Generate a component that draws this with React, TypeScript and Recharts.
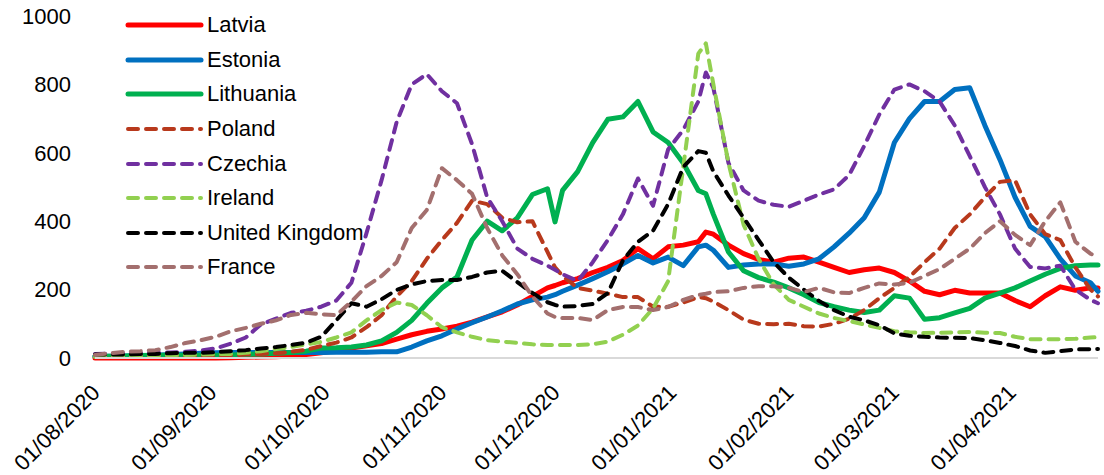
import { LineChart, Line, XAxis, YAxis, Legend } from "recharts"

// days since 01/08/2020
const days = [
  0, 4, 8, 12, 16, 20, 24, 28, 32, 36, 40, 44, 48, 52, 56, 60, 64, 68, 72, 76, 80, 84, 88, 92, 96, 100, 104, 108, 112, 116, 120,
  122,
  124, 128, 132, 136, 140, 144, 148, 152, 156, 160,
  162,
  164, 168, 172, 176, 180, 184, 188, 192, 196, 200, 204, 208, 212, 216, 220, 224, 228, 232, 236, 240, 244, 248, 252, 256, 260, 264,
  266,
]

const monthTicks = [0, 31, 61, 92, 122, 153, 184, 212, 243]
const monthLabels = [
  "01/08/2020", "01/09/2020", "01/10/2020", "01/11/2020", "01/12/2020",
  "01/01/2021", "01/02/2021", "01/03/2021", "01/04/2021",
]
const yTicks = [0, 200, 400, 600, 800, 1000]

const latvia = [
  0, 0, 0, 0, 0, 0, 0, 0, 0, 1, 2, 3, 4, 6, 10, 15, 22, 29, 36, 42, 55, 68, 78, 85, 93, 105, 120, 135, 155, 180, 205,
  212,
  220, 232, 250, 265, 285, 320, 290, 325, 330, 340,
  368,
  362, 330, 305, 288, 280, 292, 295, 280, 265, 250, 258, 263, 250, 225, 195, 185, 198, 190, 190, 190, 168, 150, 182, 208, 198, 205,
  205,
]
const estonia = [
  5, 5, 6, 7, 8, 10, 12, 14, 15, 16, 16, 16, 16, 16, 16, 16, 17, 17, 17, 18, 18, 32, 50, 65, 85, 103, 120, 138, 158, 170, 178,
  185,
  195, 213, 232, 252, 275, 300, 278, 295, 270, 325,
  330,
  315, 265, 272, 275, 275, 268, 275, 290, 325, 365, 410, 485, 630, 700, 750, 750, 785, 790, 680, 580, 470, 385, 355, 290, 240, 220,
  195,
]
const lithuania = [
  5, 5, 6, 7, 8, 8, 8, 8, 8, 9, 10, 12, 14, 16, 20, 29, 30, 32, 38, 50, 75, 110, 160, 205, 237, 345, 400, 372, 410, 478, 495,
  398,
  490, 545, 630, 698, 705, 750, 661, 630, 570, 490,
  480,
  420, 310, 255, 235, 222, 205, 185, 162, 150, 140, 133, 140, 182, 175, 113, 118, 132, 145, 175, 190, 205, 225, 245, 262, 270, 272,
  272,
]
const poland = [
  2, 2, 3, 3, 4, 4, 5, 6, 7, 8, 10, 12, 14, 18, 24, 35, 45, 60, 90, 125, 180, 225, 290, 345, 395, 460, 450, 410, 397, 400, 310,
  265,
  240, 205, 197, 188, 178, 178, 150, 150, 162, 178,
  175,
  165, 140, 112, 100, 99, 100, 93, 92, 100, 115, 140, 175, 205, 237, 280, 320, 380, 420, 470, 515, 520, 420, 362, 345, 265, 200,
  180,
]
const czechia = [
  12, 13, 14, 14, 15, 16, 18, 22, 28, 42, 60, 98, 115, 132, 138, 150, 168, 220, 365, 520, 690, 800, 830, 780, 745, 625, 470, 400, 320, 290, 270,
  258,
  245, 225, 280, 345, 420, 525, 445, 610, 667, 750,
  835,
  790, 570, 490, 460, 448, 442, 460, 478, 493, 535, 620, 712, 785, 800, 780, 750, 680, 590, 500, 420, 320, 266, 262, 270, 200, 170,
  160,
]
const ireland = [
  3, 4, 5, 6, 7, 8, 9, 10, 11, 12, 15, 20, 26, 32, 40, 47, 60, 75, 110, 140, 162, 155, 125, 90, 75, 62, 52, 48, 44, 40, 38,
  38,
  38, 38, 40, 48, 68, 95, 145, 225, 558, 890,
  920,
  800, 570, 390, 290, 215, 170, 150, 130, 117, 108, 98, 88, 78, 75, 73, 74, 75, 76, 74, 73, 62, 55, 55, 55, 56, 60,
  61,
]
const unitedKingdom = [
  10, 10, 10, 12, 12, 14, 15, 15, 17, 20, 23, 28, 32, 38, 45, 62, 110, 160, 150, 172, 199, 215, 225, 228, 228, 237, 250, 255, 222, 190, 163,
  155,
  150, 152, 158, 190, 285, 340, 372, 450, 558, 605,
  600,
  545, 475, 410, 345, 280, 235, 200, 167, 140, 121, 110, 96, 72, 65, 62, 60, 59, 58, 52, 44, 35, 22, 15, 20, 25, 26,
  26,
]
const france = [
  9, 14, 18, 20, 23, 32, 44, 52, 62, 78, 88, 100, 110, 126, 132, 128, 125, 165, 210, 240, 280, 380, 433, 555, 520, 480, 380, 300, 245, 180, 130,
  120,
  117, 117, 111, 140, 149, 149, 140, 149, 170, 184,
  188,
  193, 195, 205, 210, 210, 205, 193, 205, 192, 190, 205, 218, 215, 220, 240, 260, 290, 320, 365, 400, 360, 330, 400, 455, 340, 305,
  295,
]

const series = [
  { name: "Latvia", values: latvia, color: "#FF0000", dashed: false },
  { name: "Estonia", values: estonia, color: "#0070C0", dashed: false },
  { name: "Lithuania", values: lithuania, color: "#00B050", dashed: false },
  { name: "Poland", values: poland, color: "#B8391C", dashed: true },
  { name: "Czechia", values: czechia, color: "#7030A0", dashed: true },
  { name: "Ireland", values: ireland, color: "#92D050", dashed: true },
  { name: "United Kingdom", values: unitedKingdom, color: "#000000", dashed: true },
  { name: "France", values: france, color: "#A36F6E", dashed: true },
]

const data = days.map((d, i) => {
  const row: Record<string, number> = { day: d }
  series.forEach((s) => {
    row[s.name] = s.values[i]
  })
  return row
})

const FONT = "'Liberation Sans', Arial, sans-serif"
const DASH = "10 8"

function DateTick(props: any) {
  const { x, y, payload } = props
  const label = monthLabels[monthTicks.indexOf(payload.value)]
  const ax = x + 2
  const ay = y + 32
  return (
    <text
      x={ax}
      y={ay}
      transform={`rotate(-45, ${ax}, ${ay})`}
      textAnchor="end"
      dominantBaseline="middle"
      fontSize={22}
      fontFamily={FONT}
      fill="#000"
    >
      {label}
    </text>
  )
}

function LegendBox() {
  return (
    <div style={{ fontFamily: FONT, fontSize: 22, color: "#000" }}>
      {series.map((s) => (
        <div key={s.name} style={{ display: "flex", alignItems: "center", height: 34.6 }}>
          <svg width={80} height={10}>
            <line
              x1={3}
              y1={5}
              x2={76}
              y2={5}
              stroke={s.color}
              strokeWidth={s.dashed ? 4 : 5}
              strokeDasharray={s.dashed ? DASH : undefined}
              strokeLinecap="round"
            />
          </svg>
          <span style={{ marginLeft: 2 }}>{s.name}</span>
        </div>
      ))}
    </div>
  )
}

export default function App() {
  return (
    <div style={{ width: 1104, height: 475, background: "#fff" }}>
      <style>{"body{margin:0}"}</style>
      <LineChart width={1104} height={475} data={data} margin={{ top: 16, right: 6, bottom: 0, left: 0 }}>
        <XAxis
          dataKey="day"
          type="number"
          domain={[0, 266]}
          ticks={monthTicks}
          interval={0}
          axisLine={{ stroke: "#D9D9D9", strokeWidth: 2 }}
          tickLine={false}
          tickSize={0}
          tickMargin={0}
          height={117}
          tick={<DateTick />}
        />
        <YAxis
          domain={[0, 1000]}
          ticks={yTicks}
          interval={0}
          axisLine={false}
          tickLine={false}
          tickSize={0}
          tickMargin={24}
          width={95}
          tick={{ fontSize: 22, fill: "#000", fontFamily: FONT }}
        />
        <Legend
          layout="vertical"
          align="center"
          verticalAlign="middle"
          wrapperStyle={{ left: 125, top: 8, width: 300 }}
          content={() => <LegendBox />}
        />
        {series.map((s) => (
          <Line
            key={s.name}
            dataKey={s.name}
            type="linear"
            stroke={s.color}
            strokeWidth={s.dashed ? 4 : 5}
            strokeDasharray={s.dashed ? DASH : undefined}
            strokeLinecap="round"
            strokeLinejoin="round"
            dot={false}
            activeDot={false}
            isAnimationActive={false}
          />
        ))}
      </LineChart>
    </div>
  )
}
